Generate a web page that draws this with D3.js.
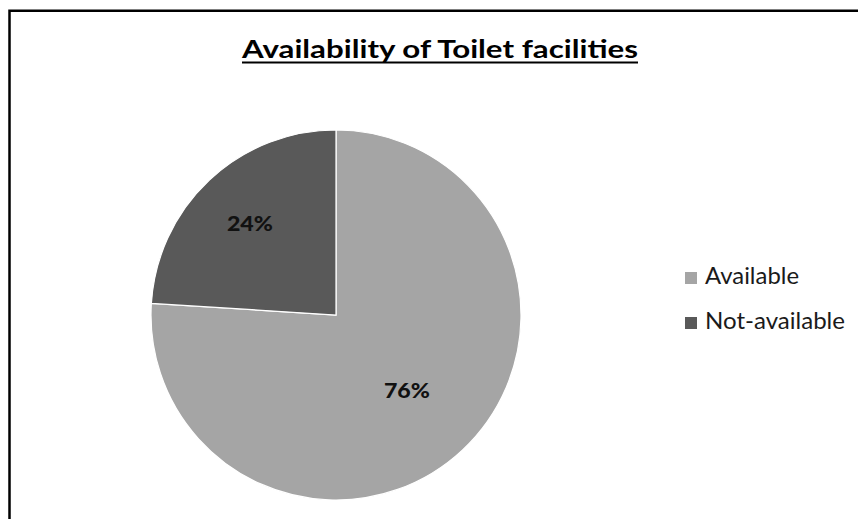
<!DOCTYPE html>
<html>
<head>
<meta charset="utf-8">
<script src="https://cdn.jsdelivr.net/npm/d3@7"></script>
<style>
  html, body { margin: 0; padding: 0; background: #fff; }
  svg { display: block; }
</style>
</head>
<body>
<svg id="chart" width="858" height="519"></svg>
<script>
// Survey result: share of households with a toilet facility
const categories = ["Available", "Not-available"];
const percentages = [76, 24];
const sliceColors = ["#a5a5a5", "#595959"];
const chartTitle = "Availability of Toilet facilities";

const width = 858, height = 519;
const svg = d3.select("#chart");

svg.append("rect").attr("width", width).attr("height", height).attr("fill", "#fff");

// Frame: top and left edges (the rest runs off the page)
svg.append("path")
  .attr("d", `M9.5,${height} V10.75 H${width}`)
  .attr("fill", "none")
  .attr("stroke", "#000")
  .attr("stroke-width", 2.5);

// Title, bold and underlined
const titleG = svg.append("g");
titleG.append("text")
  .attr("x", 440).attr("y", 58)
  .attr("text-anchor", "middle")
  .attr("font-family", "Lato, 'Open Sans', sans-serif")
  .attr("font-weight", "bold")
  .attr("font-size", 24)
  .attr("textLength", 396)
  .attr("lengthAdjust", "spacingAndGlyphs")
  .attr("fill", "#000")
  .text(chartTitle);
titleG.append("line")
  .attr("x1", 242).attr("x2", 638)
  .attr("y1", 62.5).attr("y2", 62.5)
  .attr("stroke", "#000").attr("stroke-width", 2);

// Pie
const cx = 336, cy = 315, radius = 185;
const data = categories.map((c, i) => ({ category: c, value: percentages[i] }));

const color = d3.scaleOrdinal().domain(categories).range(sliceColors);
const pie = d3.pie().value(d => d.value).sort(null);
const arc = d3.arc().innerRadius(0).outerRadius(radius);

const arcs = pie(data);
const pieG = svg.append("g").attr("transform", `translate(${cx},${cy})`);

pieG.selectAll("path.slice")
  .data(arcs)
  .join("path")
  .attr("class", "slice")
  .attr("d", arc)
  .attr("fill", d => color(d.data.category))
  .attr("stroke", "#fff")
  .attr("stroke-width", 1.2);

// Data labels placed inside each slice
const labelRadiusFraction = { "Available": 0.56, "Not-available": 0.68 };
pieG.selectAll("text.pct")
  .data(arcs)
  .join("text")
  .attr("class", "pct")
  .attr("transform", d => {
    const r = radius * labelRadiusFraction[d.data.category];
    const c = d3.arc().innerRadius(r).outerRadius(r).centroid(d);
    return `translate(${c[0]},${c[1]})`;
  })
  .attr("text-anchor", "middle")
  .attr("dy", "0.36em")
  .attr("font-family", "Lato, 'Open Sans', sans-serif")
  .attr("font-weight", "900")
  .attr("font-size", 21)
  .attr("textLength", 46)
  .attr("lengthAdjust", "spacingAndGlyphs")
  .attr("fill", "#111")
  .text(d => d.data.value + "%");

// Legend
const legend = svg.append("g").attr("transform", "translate(685,272)");
const item = legend.selectAll("g.item")
  .data(categories)
  .join("g")
  .attr("class", "item")
  .attr("transform", (d, i) => `translate(0,${i * 45})`);

item.append("rect")
  .attr("width", 12).attr("height", 12)
  .attr("fill", d => color(d));

item.append("text")
  .attr("x", 20).attr("y", 12)
  .attr("font-family", "Lato, 'Open Sans', sans-serif")
  .attr("font-size", 23)
  .attr("fill", "#1a1a1a")
  .attr("textLength", d => d === "Available" ? 94 : 140)
  .attr("lengthAdjust", "spacingAndGlyphs")
  .text(d => d);
</script>
</body>
</html>
